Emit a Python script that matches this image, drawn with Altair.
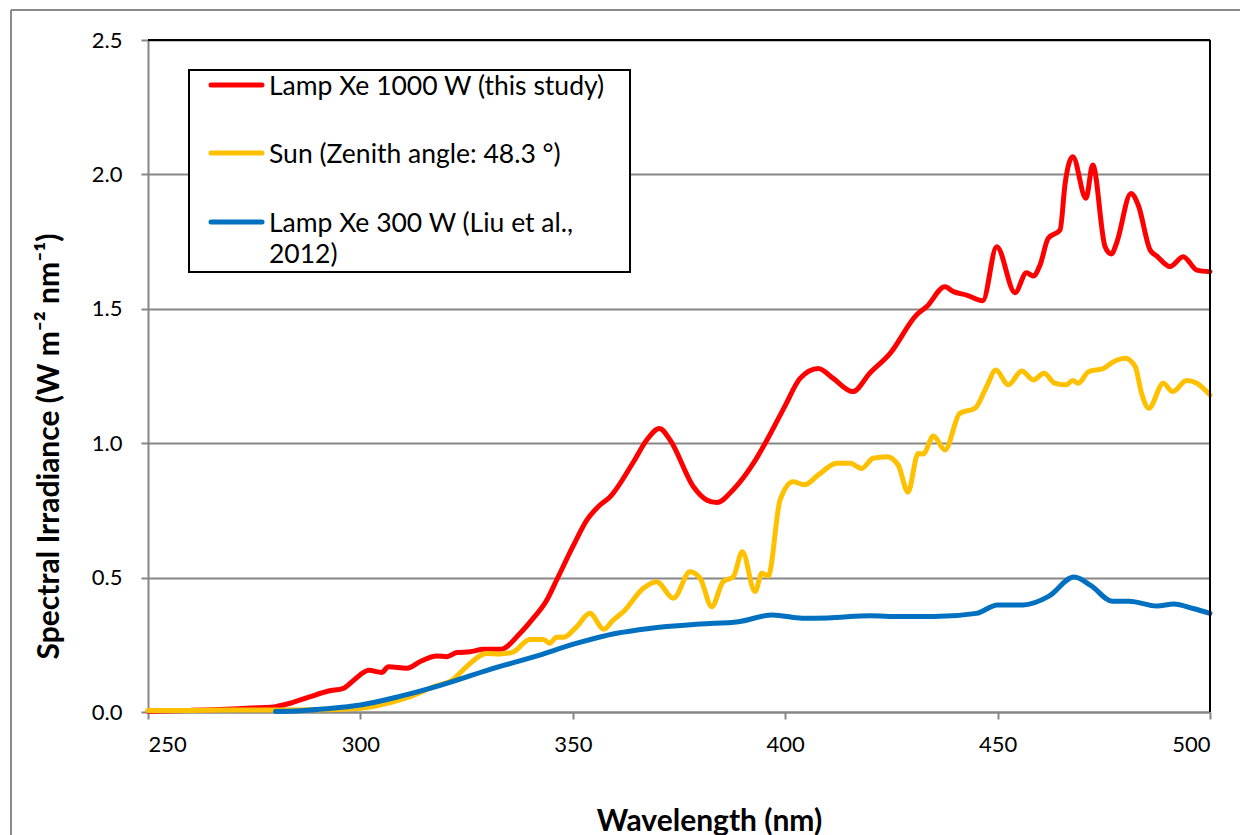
import altair as alt
import pandas as pd

# ---------------- data ----------------
red_wl = [250, 260, 270, 276, 280, 284, 288, 292.5, 296, 298.5, 302, 305, 306.6, 311, 314, 318, 320.3,
          322.7, 325.8, 329, 333, 337.6, 340.7, 343.9, 346.2, 350, 353.3, 356.4, 358.8, 364.3, 367.4,
          370.4, 372.9, 378.4, 381.5, 383.9, 387.8, 392.5, 396, 400, 403.5, 407.8, 411.3, 415.9, 420,
          424.7, 430.9, 433.3, 437.6, 439.6, 442.7, 446.5, 449.8, 454.1, 456.8, 458.4, 460, 461.9,
          464.7, 465.9, 467.7, 470.8, 472.4, 475.3, 476.8, 478, 481.4, 483.1, 485.9, 487.5, 490.6,
          493.7, 496.9, 500]
red_val = [0.003, 0.006, 0.011, 0.016, 0.02, 0.035, 0.056, 0.078, 0.088, 0.119, 0.155, 0.147, 0.168,
           0.163, 0.187, 0.208, 0.206, 0.221, 0.224, 0.233, 0.233, 0.293, 0.349, 0.417, 0.491, 0.615,
           0.714, 0.770, 0.801, 0.931, 1.012, 1.055, 1.012, 0.838, 0.789, 0.779, 0.828, 0.925, 1.02,
           1.14, 1.241, 1.278, 1.241, 1.192, 1.262, 1.334, 1.477, 1.508, 1.582, 1.564, 1.551, 1.530,
           1.731, 1.560, 1.634, 1.622, 1.663, 1.762, 1.793, 1.967, 2.066, 1.911, 2.035, 1.731, 1.704,
           1.744, 1.929, 1.886, 1.719, 1.696, 1.657, 1.694, 1.644, 1.638]

yel_wl = [250, 260, 270, 280, 290, 300, 307.7, 311.7, 317.2, 321.9, 325, 329.7, 332.9, 336, 339.9,
          343.1, 344.5, 346.2, 347.8, 350.9, 354, 357.3, 359.5, 361.9, 366.6, 369.7, 373.7, 377.6,
          380, 382.7, 385.4, 387.8, 389.9, 392.9, 394.5, 396, 398.8, 401.9, 404.5, 407.8, 412.1,
          415.3, 418, 420.7, 423.9, 426.6, 428.9, 431.3, 432.5, 434.9, 437.6, 441.1, 444.7, 447.4,
          449.6, 452.5, 455.7, 458.4, 460.9, 463.5, 466.1, 467.7, 469, 471.4, 474.9, 477.3, 480,
          482.4, 483.9, 485.6, 489, 491.2, 494.5, 496.9, 500]
yel_val = [0.006, 0.006, 0.007, 0.007, 0.008, 0.014, 0.038, 0.057, 0.094, 0.122, 0.169, 0.218, 0.216,
           0.224, 0.270, 0.270, 0.256, 0.278, 0.278, 0.317, 0.367, 0.308, 0.342, 0.373, 0.460, 0.485,
           0.423, 0.522, 0.497, 0.392, 0.485, 0.503, 0.596, 0.448, 0.516, 0.506, 0.789, 0.857, 0.845,
           0.882, 0.925, 0.925, 0.906, 0.944, 0.950, 0.919, 0.818, 0.962, 0.96, 1.027, 0.975, 1.111,
           1.130, 1.210, 1.272, 1.217, 1.269, 1.235, 1.260, 1.223, 1.217, 1.233, 1.223, 1.266, 1.278,
           1.303, 1.316, 1.285, 1.185, 1.130, 1.223, 1.192, 1.233, 1.223, 1.179]

blue_wl = [280, 286, 292, 300, 309, 319, 330, 341, 351, 360, 368, 380, 389, 397, 404, 410, 420, 427,
           435, 445, 450, 456, 462, 468, 472, 477, 481, 487.5, 491.5, 496, 500]
blue_val = [0.002, 0.005, 0.012, 0.026, 0.057, 0.100, 0.156, 0.206, 0.256, 0.292, 0.311, 0.327, 0.336,
            0.361, 0.349, 0.350, 0.358, 0.355, 0.355, 0.367, 0.398, 0.398, 0.43, 0.502, 0.47, 0.412,
            0.412, 0.394, 0.402, 0.385, 0.367]

series_names = ["Lamp Xe 1000 W (this study)", "Sun (Zenith angle: 48.3 °)",
                "Lamp Xe 300 W (Liu et al.,\n2012)"]
series_colors = ["#FF0000", "#FFC000", "#0070C0"]
x_ticks = [250, 300, 350, 400, 450, 500]
y_ticks = [0.0, 0.5, 1.0, 1.5, 2.0, 2.5]

FONT = "Lato"
W, H = 1062, 672

xs = alt.Scale(domain=[250, 500], nice=False, zero=False)
ys = alt.Scale(domain=[0, 2.5], nice=False)


def line_layer(wl, val, color, axes=False):
    df = pd.DataFrame({"wl": wl, "val": val})
    if axes:
        x = alt.X("wl:Q", scale=xs, axis=alt.Axis(
            values=x_ticks, title="Wavelength (nm)", grid=False,
            domainColor="#868686", domainWidth=2, tickColor="#868686", tickWidth=2, tickSize=7,
            labelFont=FONT, labelFontSize=22, labelColor="black", labelPadding=15,
            titleFont=FONT, titleFontSize=30, titleFontWeight="bold", titleColor="black",
            titleX=561, titleY=109, titleBaseline="middle", titleAnchor="start", titleAlign="center"))
        y = alt.Y("val:Q", scale=ys, axis=alt.Axis(
            values=y_ticks, format=".1f", title="Spectral Irradiance (W m⁻² nm⁻¹)",
            grid=True, gridColor="#868686", gridWidth=2,
            domainColor="#868686", domainWidth=2, tickColor="#868686", tickWidth=2, tickSize=7,
            labelFont=FONT, labelFontSize=22, labelColor="black", labelPadding=19,
            titleFont=FONT, titleFontSize=30, titleFontWeight="bold", titleColor="black",
            titleAngle=-90, titleX=-99, titleY=406, titleBaseline="middle", titleAlign="center",
            titleAnchor="start"))
    else:
        x = alt.X("wl:Q", scale=xs)
        y = alt.Y("val:Q", scale=ys)
    return alt.Chart(df).mark_line(color=color, strokeWidth=5, interpolate="monotone",
                                   strokeCap="round", strokeJoin="round").encode(x=x, y=y)


red = line_layer(red_wl, red_val, series_colors[0], axes=True)
yel = line_layer(yel_wl, yel_val, series_colors[1])
blu = line_layer(blue_wl, blue_val, series_colors[2])

# plot-area border (top and right) in black
border_top = alt.Chart(pd.DataFrame({"a": [250], "b": [500], "y": [2.5]})).mark_rule(
    color="black", strokeWidth=2).encode(x=alt.X("a:Q", scale=xs), x2="b:Q", y=alt.Y("y:Q", scale=ys))
border_right = alt.Chart(pd.DataFrame({"x": [500], "a": [0], "b": [2.5]})).mark_rule(
    color="black", strokeWidth=2).encode(x=alt.X("x:Q", scale=xs), y=alt.Y("a:Q", scale=ys), y2="b:Q")

# outer chart frame (only top and left edges are inside the picture)
frame_top = alt.Chart(pd.DataFrame({"k": [0]})).mark_rule(
    color="#8a8a8a", strokeWidth=2).encode(
    x=alt.value(-137), x2=alt.value(1150), y=alt.value(-30))
frame_left = alt.Chart(pd.DataFrame({"k": [0]})).mark_rule(
    color="#8a8a8a", strokeWidth=2).encode(
    x=alt.value(-137), y=alt.value(-30), y2=alt.value(900))

# manual legend
leg_df = pd.DataFrame({
    "name": series_names,
    "color": series_colors,
    "ly": [45, 113, 182],
    "ty": [55, 123, 191.5],
})
leg_box = alt.Chart(pd.DataFrame({"k": [0]})).mark_rect(
    fill="white", stroke="black", strokeWidth=2).encode(
    x=alt.value(41), x2=alt.value(482), y=alt.value(30), y2=alt.value(232))
leg_lines = alt.Chart(leg_df).mark_rule(strokeWidth=5, strokeCap="round").encode(
    x=alt.value(63), x2=alt.value(114), y=alt.Y("ly:Q", scale=None),
    color=alt.Color("color:N", scale=None))
leg_text = alt.Chart(leg_df).mark_text(
    align="left", baseline="alphabetic", font=FONT, fontSize=26.5, color="black",
    lineBreak="\n", lineHeight=31).encode(
    x=alt.value(121), y=alt.Y("ty:Q", scale=None), text="name:N")

chart = alt.layer(frame_top, frame_left, red, yel, blu, border_top, border_right,
                  leg_box, leg_lines, leg_text).properties(
    width=W, height=H,
    autosize=alt.AutoSizeParams(type="none"),
    padding={"left": 140, "top": 32, "right": 30, "bottom": 123},
    background="white",
).configure_view(stroke=None)

chart.save("out.html", embed_options={"renderer": "svg", "actions": False})
